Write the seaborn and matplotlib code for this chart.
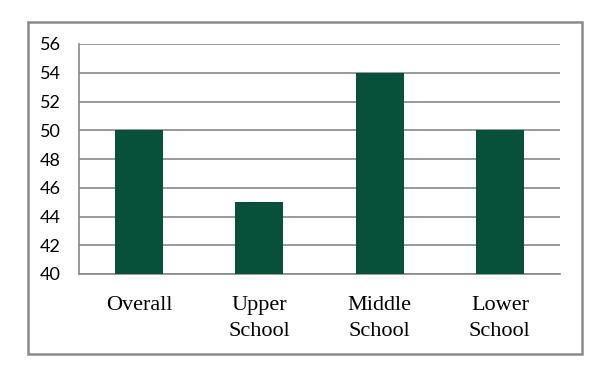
import seaborn as sns
import matplotlib.pyplot as plt
import numpy as np
import pandas as pd
from matplotlib.patches import Rectangle

categories = ["Overall", "Upper\nSchool", "Middle\nSchool", "Lower\nSchool"]
values = [50, 45, 54, 50]
y_ticks = [40, 42, 44, 46, 48, 50, 52, 54, 56]

BAR_COLOR = "#07503A"
GRID_COLOR = "#888888"

df = pd.DataFrame({"group": categories, "value": values})

sns.set_style("white")
fig = plt.figure(figsize=(6.13, 3.78), dpi=100)
ax = fig.add_axes([79 / 613, 1 - 274 / 378, (560 - 79) / 613, (274 - 44) / 378])

sns.barplot(data=df, x="group", y="value", color=BAR_COLOR, width=0.4,
            saturation=1, linewidth=0, ax=ax, zorder=3)

ax.set_ylim(40, 56)
ax.set_yticks(y_ticks)
ax.set_xlim(-0.5, len(categories) - 0.5)
ax.grid(axis="y", color=GRID_COLOR, linewidth=1.2, zorder=0)
ax.set_axisbelow(True)

for side in ["top", "right"]:
    ax.spines[side].set_visible(False)
for side in ["left", "bottom"]:
    ax.spines[side].set_color(GRID_COLOR)
    ax.spines[side].set_linewidth(1.2)

# category boundary ticks
ax.set_xticks(np.arange(-0.5, len(categories)), minor=True)
ax.tick_params(axis="x", which="minor", length=5, width=1.2, color=GRID_COLOR, direction="out")
ax.tick_params(axis="x", which="major", length=0, pad=16, labelcolor="black")
ax.tick_params(axis="y", length=5, width=1.2, color=GRID_COLOR, direction="out", pad=8,
               labelcolor="black")

for lab in ax.get_xticklabels():
    lab.set_fontfamily("Liberation Serif")
    lab.set_fontsize(16)
    lab.set_linespacing(1.5)
    lab.set_verticalalignment("top")
for lab in ax.get_yticklabels():
    lab.set_fontfamily("Lato")
    lab.set_fontsize(13)

ax.set_xlabel("")
ax.set_ylabel("")

# outer chart border
fig.patches.append(Rectangle((28 / 613, 1 - 354 / 378), (582 - 28) / 613, (354 - 22) / 378,
                             transform=fig.transFigure, fill=False,
                             edgecolor="#8a8a8a", linewidth=1.8))

fig.savefig("out.png", dpi=100)
